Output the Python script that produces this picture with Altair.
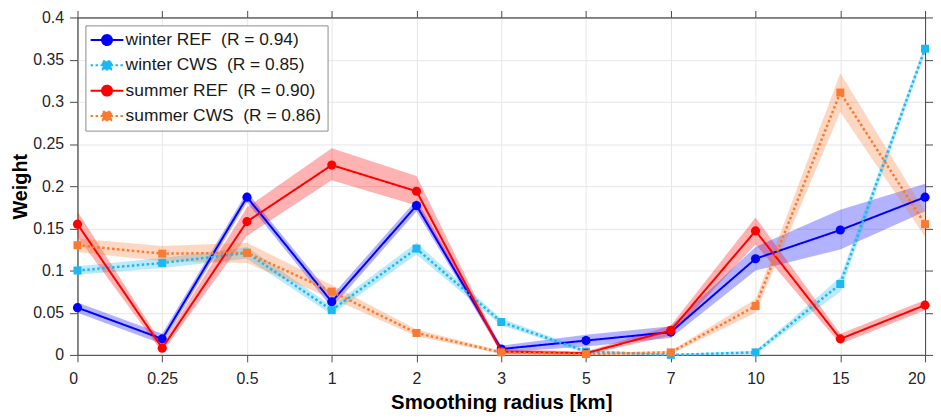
import altair as alt
import pandas as pd

radius = ["0", "0.25", "0.5", "1", "2", "3", "5", "7", "10", "15", "20"]

series_names = [
    "winter REF\u00a0 (R = 0.94)",
    "winter CWS\u00a0 (R = 0.85)",
    "summer REF\u00a0 (R = 0.90)",
    "summer CWS\u00a0 (R = 0.86)",
]
series_colors = ["#0000ff", "#1cb8f2", "#ff0000", "#fa7a32"]

winter_ref = [0.056, 0.019, 0.187, 0.063, 0.177, 0.007, 0.017, 0.027, 0.114, 0.148, 0.187]
winter_ref_lo = [0.050, 0.013, 0.181, 0.056, 0.170, 0.003, 0.010, 0.020, 0.100, 0.125, 0.170]
winter_ref_hi = [0.062, 0.025, 0.193, 0.070, 0.184, 0.011, 0.024, 0.034, 0.128, 0.172, 0.203]

winter_cws = [0.100, 0.109, 0.121, 0.053, 0.126, 0.039, 0.004, 0.000, 0.003, 0.084, 0.363]
winter_cws_lo = [0.095, 0.103, 0.114, 0.048, 0.119, 0.035, 0.002, 0.000, 0.001, 0.075, 0.358]
winter_cws_hi = [0.105, 0.115, 0.128, 0.058, 0.133, 0.043, 0.006, 0.001, 0.005, 0.092, 0.368]

summer_ref = [0.155, 0.008, 0.158, 0.225, 0.194, 0.004, 0.002, 0.029, 0.147, 0.019, 0.059]
summer_ref_lo = [0.140, 0.003, 0.141, 0.207, 0.177, 0.001, 0.000, 0.023, 0.131, 0.013, 0.053]
summer_ref_hi = [0.170, 0.013, 0.175, 0.245, 0.212, 0.007, 0.004, 0.035, 0.163, 0.025, 0.065]

summer_cws = [0.130, 0.120, 0.121, 0.075, 0.026, 0.003, 0.001, 0.003, 0.058, 0.311, 0.155]
summer_cws_lo = [0.122, 0.111, 0.109, 0.067, 0.022, 0.001, 0.000, 0.001, 0.050, 0.288, 0.140]
summer_cws_hi = [0.138, 0.129, 0.133, 0.083, 0.030, 0.005, 0.002, 0.005, 0.066, 0.334, 0.170]

y_ticks = [0, 0.05, 0.1, 0.15, 0.2, 0.25, 0.3, 0.35, 0.4]

values = [winter_ref, winter_cws, summer_ref, summer_cws]
lows = [winter_ref_lo, winter_cws_lo, summer_ref_lo, summer_cws_lo]
highs = [winter_ref_hi, winter_cws_hi, summer_ref_hi, summer_cws_hi]

rows = []
for name, v, lo, hi in zip(series_names, values, lows, highs):
    for r, a, b, c in zip(radius, v, lo, hi):
        rows.append({"r": r, "series": name, "w": a, "lo": b, "hi": c})
df = pd.DataFrame(rows)

FONT = "Liberation Sans"
AXIS_COLOR = "#4a4a4a"

xscale = alt.Scale(type="point", domain=radius, padding=0)
yscale = alt.Scale(domain=[0, 0.4], nice=False, zero=True)

circle_path = "M-3.3,0L3.3,0M-1,0A1,1,0,1,0,1,0A1,1,0,1,0,-1,0Z"
square_path = "M-3.3,0L3.3,0M-0.85,-0.85L0.85,-0.85L0.85,0.85L-0.85,0.85Z"
legend_shapes = [circle_path, square_path, circle_path, square_path]
legend_dashes = [[1, 0], [2.5, 2.5], [1, 0], [2.5, 2.5]]


def make_legend():
    return alt.Legend(
        title=None,
        orient="none",
        legendX=8,
        legendY=8,
        labelFont=FONT,
        labelFontSize=17.5,
        labelColor="#1a1a1a",
        labelLimit=400,
        symbolSize=100,
        symbolStrokeWidth=2,
        symbolOffset=7,
        labelOffset=10,
        rowPadding=6.5,
        padding=6,
        strokeColor="#8c8c8c",
        fillColor="white",
        symbolOpacity=1,
    )


base = alt.Chart(df)

main_x_axis = alt.Axis(
    title="Smoothing radius [km]", labelAngle=0, grid=True, tickSize=7,
    labelAlign=alt.ExprRef("datum.label == '0' || datum.label == '20' ? 'right' : 'center'"),
    labelPadding=9, titlePadding=6, labelFontSize=16, titleFontSize=20.5,
    labelFont=FONT, titleFont=FONT, titleFontWeight="bold",
)
main_y_axis = alt.Axis(
    title="Weight", values=y_ticks, format="~g", grid=True, tickSize=8,
    labelPadding=6, titlePadding=2, labelFontSize=16, titleFontSize=20,
    labelFont=FONT, titleFont=FONT, titleFontWeight="bold",
)
top_axis = alt.Axis(orient="top", title=None, labels=False, grid=False, tickSize=7,
                    domain=True, ticks=True, domainColor=AXIS_COLOR, tickColor=AXIS_COLOR)
right_axis = alt.Axis(orient="right", title=None, labels=False, grid=False,
                      values=y_ticks, tickSize=8, domain=True, ticks=True,
                      domainColor=AXIS_COLOR, tickColor=AXIS_COLOR)

layers = []
for i, name in enumerate(series_names):
    xa, ya = (main_x_axis, main_y_axis) if i == 0 else (None, None)
    band = base.transform_filter(alt.datum.series == name).mark_area(
        opacity=0.3, color=series_colors[i]
    ).encode(
        x=alt.X("r:N", scale=xscale, sort=radius, axis=xa),
        y=alt.Y("lo:Q", scale=yscale, axis=ya),
        y2="hi:Q",
    )
    layers.append(band)

for i, name in enumerate(series_names):
    is_ref = "REF" in name
    sub = base.transform_filter(alt.datum.series == name)
    line = sub.mark_line(
        color=series_colors[i],
        strokeWidth=2 if is_ref else 2.5,
        strokeDash=[1, 0] if is_ref else [2.5, 2.5],
    ).encode(
        x=alt.X("r:N", scale=xscale, sort=radius, axis=None),
        y=alt.Y("w:Q", scale=yscale, axis=None),
    )
    pts = sub.mark_point(
        filled=True, opacity=1, color=series_colors[i],
        shape="circle" if is_ref else "square",
        size=85 if is_ref else 65,
    ).encode(
        x=alt.X("r:N", scale=xscale, sort=radius, axis=None),
        y=alt.Y("w:Q", scale=yscale, axis=None),
    )
    layers.append(line)
    layers.append(pts)

# legend-only layer (no data drawn; entries come from the scale domains); also carries top/right axes
legend_layer = base.transform_filter("false").mark_point(opacity=1, strokeWidth=2).encode(
    x=alt.X("r:N", scale=xscale, sort=radius, axis=top_axis),
    y=alt.Y("w:Q", scale=yscale, axis=right_axis),
    fill=alt.Fill("series:N", scale=alt.Scale(domain=series_names, range=series_colors), legend=make_legend()),
    stroke=alt.Stroke("series:N", scale=alt.Scale(domain=series_names, range=series_colors), legend=make_legend()),
    shape=alt.Shape("series:N", scale=alt.Scale(domain=series_names, range=legend_shapes), legend=make_legend()),
    strokeDash=alt.StrokeDash("series:N", scale=alt.Scale(domain=series_names, range=legend_dashes), legend=make_legend()),
)
layers.append(legend_layer)

chart = alt.layer(*layers).resolve_axis(x="independent", y="independent").properties(
    width=854,
    height=340,
    padding={"left": 70, "top": 8, "right": 8, "bottom": 56},
    autosize=alt.AutoSizeParams(type="none"),
).configure_view(stroke=AXIS_COLOR, strokeWidth=1).configure_axis(
    domainColor=AXIS_COLOR,
    tickColor=AXIS_COLOR,
    labelColor="#262626",
    titleColor="#000000",
    gridColor="#e6e6e6",
    domainWidth=1,
)

chart.save("out.html", embed_options={"renderer": "svg", "actions": False})
